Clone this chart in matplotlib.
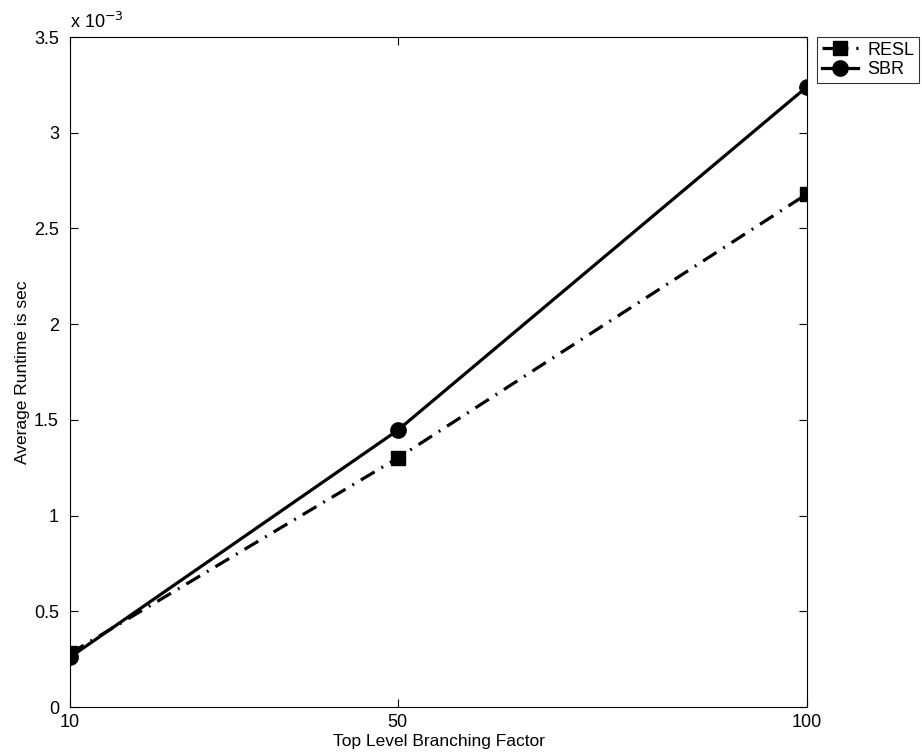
import matplotlib
matplotlib.use("Agg")
import matplotlib.pyplot as plt
from matplotlib.ticker import FuncFormatter

plt.rcParams['font.family'] = ['Liberation Sans', 'DejaVu Sans']

branching = [10, 50, 100]
resl_runtime = [0.28e-3, 1.30e-3, 2.68e-3]
sbr_runtime = [0.26e-3, 1.445e-3, 3.24e-3]
x_ticks = [10, 50, 100]
y_ticks = [0, 0.5e-3, 1.0e-3, 1.5e-3, 2.0e-3, 2.5e-3, 3.0e-3, 3.5e-3]

fig = plt.figure(figsize=(9.22, 7.56), dpi=100)
ax = fig.add_axes([70/922, 1-707/756, (807-70)/922, (707-37)/756])

ax.plot(branching, resl_runtime, color='black', linewidth=2.3,
        dashes=(5, 2.5, 0.6, 2.5), marker='s', markersize=9.5,
        label='RESL')
ax.plot(branching, sbr_runtime, color='black', linewidth=2.3,
        linestyle='-', marker='o', markersize=11, label='SBR')

ax.set_xlim(10, 100)
ax.set_ylim(0, 3.5e-3)
ax.set_xticks(x_ticks)
ax.set_yticks(y_ticks)
ax.yaxis.set_major_formatter(FuncFormatter(lambda v, p: f"{v*1e3:g}"))
ax.tick_params(direction='in', top=True, right=True, labelsize=13,
               length=6, width=0.8)
ax.tick_params(axis='y', pad=8)
ax.tick_params(axis='x', pad=5)
for s in ax.spines.values():
    s.set_linewidth(0.8)

# exponent shared by the y tick labels
ax.text(0.0, 1.008, r'x 10$^{-3}$', transform=ax.transAxes,
        fontsize=13, ha='left', va='bottom')

ax.set_xlabel('Top Level Branching Factor', fontsize=12.5, labelpad=2)
ax.set_ylabel('Average Runtime is sec', fontsize=12.5, labelpad=3)

leg = fig.legend(loc='upper left', bbox_to_anchor=(817/922, 1-37/756),
                 fontsize=13, frameon=True, fancybox=False,
                 edgecolor='black', borderpad=0.25, handlelength=2.0,
                 handletextpad=0.55, labelspacing=0.15, borderaxespad=0)
leg.get_frame().set_linewidth(0.8)

fig.savefig('out.png', dpi=100)
